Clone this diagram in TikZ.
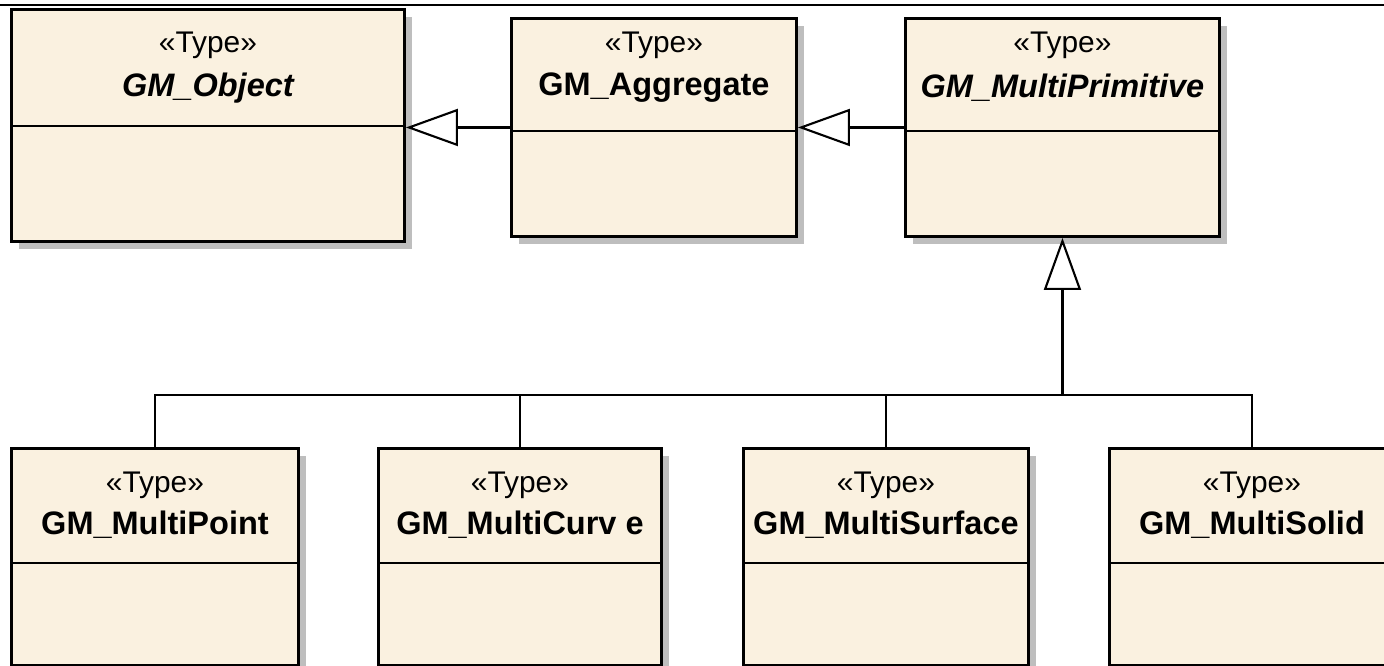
\documentclass[tikz,border=0pt]{standalone}
\usepackage{fontspec}
\setmainfont{Liberation Sans}
\usetikzlibrary{calc,arrows.meta,shadows}
\definecolor{classfill}{RGB}{250,241,224}
\definecolor{shadowgray}{RGB}{190,190,190}

\tikzset{
  classbox/.style={draw, line width=1.7pt, fill=classfill, anchor=north west, inner sep=0pt,
    drop shadow={shadow xshift=0.15cm, shadow yshift=-0.15cm, fill=shadowgray, opacity=1}},
  stereo/.style={inner sep=0pt, font=\fontsize{17}{20}\selectfont},
  cname/.style={inner sep=0pt, font=\fontsize{18.5}{22}\selectfont\bfseries},
  divider/.style={line width=1.7pt},
  conn/.style={line width=1.2pt},
  gen/.style={line width=1.2pt, -{Triangle[open, length=1.04cm, width=0.74cm, line width=1.2pt]}}
}

\begin{document}
\begin{tikzpicture}[x=0.02cm,y=-0.02cm]
    \useasboundingbox (0,0) rectangle (1384,666);
    \fill[white] (0,0) rectangle (1384,666);
    \draw[line width=1pt] (0,5) -- (1384,5);

    % upper row
    \node[classbox, minimum width=7.86cm, minimum height=4.64cm] (obj) at (10,8) {};
    \node[classbox, minimum width=5.7cm, minimum height=4.36cm] (agg) at (510,17) {};
    \node[classbox, minimum width=6.28cm, minimum height=4.36cm] (prim) at (904,17) {};

    \node[stereo] (objst) at ($(obj.north)+(0,37)$) {«Type»};
    \node[cname, font=\fontsize{18.5}{22}\selectfont\bfseries\itshape] (objnm) at ($(obj.north)+(0,80)$) {GM\_Object};
    \node[stereo] (aggst) at ($(agg.north)+(0,28)$) {«Type»};
    \node[cname] (aggnm) at ($(agg.north)+(0,71)$) {GM\_Aggregate};
    \node[stereo] (primst) at ($(prim.north)+(0,28)$) {«Type»};
    \node[cname, font=\fontsize{18.5}{22}\selectfont\bfseries\itshape] (primnm) at ($(prim.north)+(0,71)$) {GM\_MultiPrimitive};

    \draw[divider] (obj.west |- 0,126) -- (obj.east |- 0,126);
    \draw[divider] (agg.west |- 0,131) -- (agg.east |- 0,131);
    \draw[divider] (prim.west |- 0,131) -- (prim.east |- 0,131);

    % lower row
    \node[classbox, minimum width=5.74cm, minimum height=4.34cm] (point) at (10,447) {};
    \node[classbox, minimum width=5.66cm, minimum height=4.34cm] (curve) at (377,447) {};
    \node[classbox, minimum width=5.7cm, minimum height=4.34cm] (surface) at (742,447) {};
    \node[classbox, minimum width=5.7cm, minimum height=4.34cm] (solid) at (1108,447) {};

    \node[stereo] (pointst) at ($(point.north)+(0,38)$) {«Type»};
    \node[cname] (pointnm) at ($(point.north)+(0,78)$) {GM\_MultiPoint};
    \node[stereo] (curvest) at ($(curve.north)+(0,38)$) {«Type»};
    \node[cname] (curvenm) at ($(curve.north)+(0,78)$) {GM\_MultiCurv e};
    \node[stereo] (surfacest) at ($(surface.north)+(0,38)$) {«Type»};
    \node[cname] (surfacenm) at ($(surface.north)+(0,78)$) {GM\_MultiSurface};
    \node[stereo] (solidst) at ($(solid.north)+(0,38)$) {«Type»};
    \node[cname] (solidnm) at ($(solid.north)+(0,78)$) {GM\_MultiSolid};

    \foreach \c in {point,curve,surface,solid}
        \draw[divider] (\c.west |- 0,563) -- (\c.east |- 0,563);

    % generalisations
    \draw[gen] (agg.west) -- (agg.west -| obj.east);
    \draw[gen] (prim.west) -- (prim.west -| agg.east);

    \coordinate (bus) at (prim.south |- 0,395);
    \foreach \c in {point,curve,surface,solid}
        \draw[conn] (\c.north) |- (bus);
    \draw[gen] (bus) -- (prim.south);
\end{tikzpicture}
\end{document}
